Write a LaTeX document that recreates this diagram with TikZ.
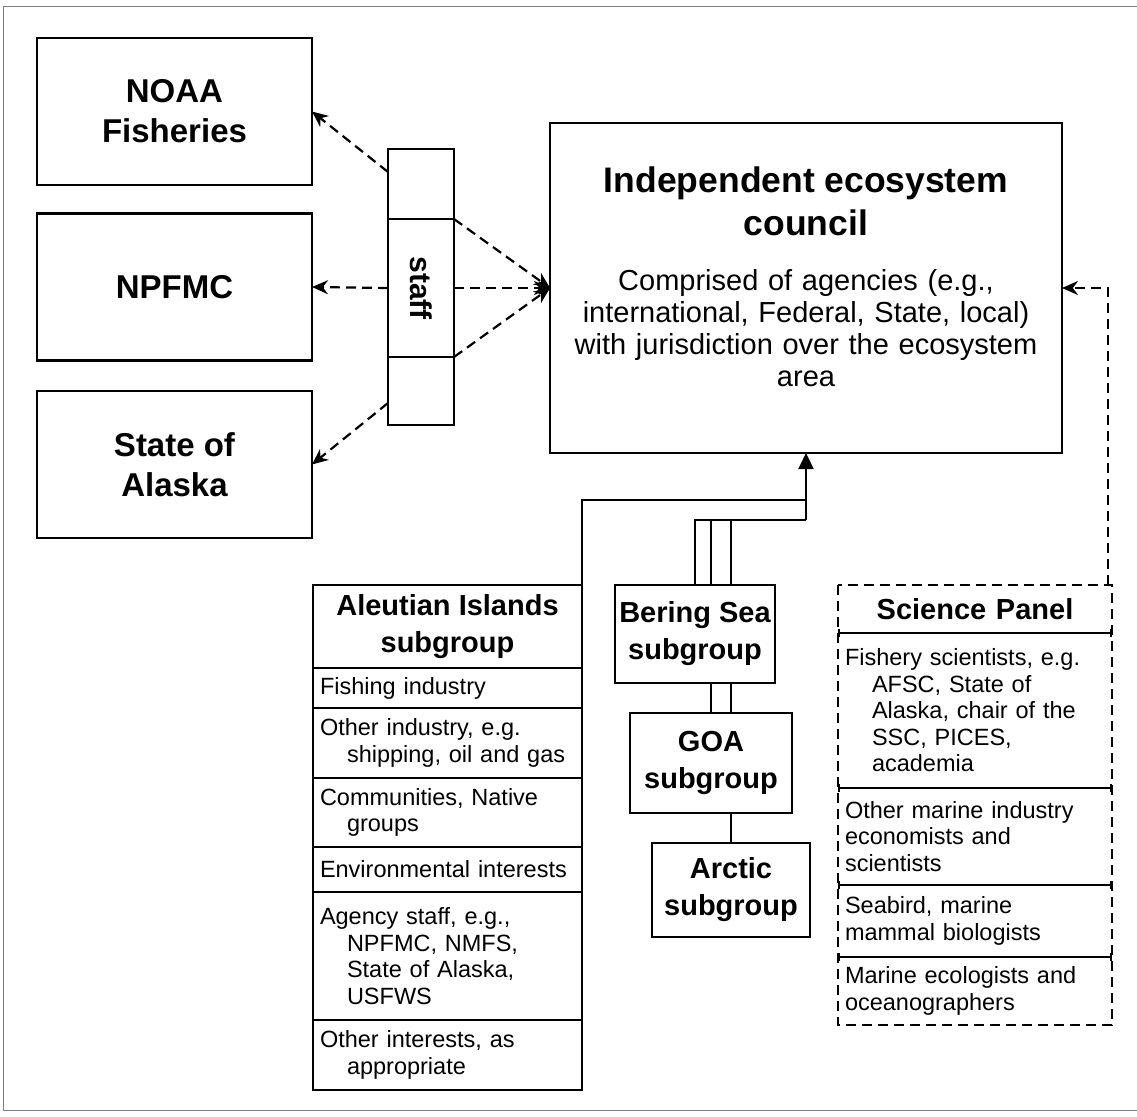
\documentclass[tikz,border=0pt]{standalone}
\usepackage{fontspec}
\setmainfont{Liberation Sans}
\usetikzlibrary{arrows.meta,positioning,backgrounds}

\newcommand{\fs}[2]{\fontsize{#1}{#2}\selectfont}
\newcommand{\ind}{\hspace*{27pt}}

\tikzset{
  box/.style={draw,line width=2.4pt,fill=white,align=center,inner sep=0pt,outer sep=0pt},
  agency/.style={box,minimum width=275pt,minimum height=147pt,font=\bfseries\fs{33}{40}},
  subgrp/.style={box,font=\bfseries\fs{29}{37}},
  cell/.style={draw,line width=1.8pt,fill=white,text width=255pt,inner xsep=7pt,inner ysep=0pt,outer sep=0pt,align=left,font=\fs{23.5}{26.5}},
  sci/.style={text width=260pt,inner xsep=7pt,inner ysep=0pt,outer sep=0pt,align=left,font=\fs{23.5}{26.5}},
  dashline/.style={line width=2.2pt,dash pattern=on 10pt off 6pt},
  link/.style={line width=2.2pt},
  divider/.style={line width=2pt,{Bar[width=8pt]}-{Bar[width=8pt]}},
}

\begin{document}
\begin{tikzpicture}[>={Stealth[length=16pt,width=14pt]},x=1pt,y=-1pt]
  \useasboundingbox (0,0) rectangle (1137,1116);
  \draw[gray,line width=0.8pt] (1137,6) -- (3,6) -- (3,1110) -- (1137,1110);

  % agencies on the left
  \node[agency] (noaa) at (174.5,111.5) {NOAA\\Fisheries};
  \node[agency] (npfmc) at (174.5,287) {NPFMC};
  \node[agency] (soa) at (174.5,464.5) {State of\\Alaska};

  % staff column
  \node[box,minimum width=66pt,minimum height=70pt] (stafftop) at (421,184) {};
  \node[box,minimum width=66pt,minimum height=138pt,below=0pt of stafftop] (staffmid) {};
  \node[box,minimum width=66pt,minimum height=68pt,below=0pt of staffmid] (staffbot) {};
  \node[rotate=-90,font=\bfseries\fs{30}{36}] (stafflabel) at (staffmid.center) {staff};

  % council
  \node[box,minimum width=512pt,minimum height=330pt] (council) at (806,288) {};
  \node[align=center,text width=490pt,font=\fs{29}{32}] (counciltext) at (806,277)
    {{\bfseries\fs{35.5}{43}Independent ecosystem\\council\par}\vspace{23pt}%
     {\fs{29}{32}Comprised of agencies (e.g.,\\international, Federal, State, local)\\with jurisdiction over the ecosystem\\area\par}};

  % Aleutian Islands subgroup
  \node[subgrp,minimum width=269pt,minimum height=83pt] (aleut) at (447.5,626.5) {Aleutian Islands\\subgroup};
  \node[cell,minimum height=40pt,below=0pt of aleut] (fish) {Fishing industry};
  \node[cell,minimum height=70pt,below=0pt of fish] (othind) {Other industry, e.g.\\\ind shipping, oil and gas};
  \node[cell,minimum height=69pt,below=0pt of othind] (comm) {Communities, Native\\\ind groups};
  \node[cell,minimum height=45pt,below=0pt of comm] (env) {Environmental interests};
  \node[cell,minimum height=128pt,below=0pt of env] (agstaff) {Agency staff, e.g.,\\\ind NPFMC, NMFS,\\\ind State of Alaska,\\\ind USFWS};
  \node[cell,minimum height=70pt,below=0pt of agstaff] (othint) {Other interests, as\\\ind appropriate};

  % other subgroups
  \node[subgrp,minimum width=160pt,minimum height=98pt] (bering) at (695,634) {Bering Sea\\subgroup};
  \node[subgrp,minimum width=162pt,minimum height=100pt] (goa) at (711,763) {GOA\\subgroup};
  \node[subgrp,minimum width=158pt,minimum height=94pt] (arctic) at (731,890) {Arctic\\subgroup};

  % science panel
  \node[sci,minimum height=48pt,align=center,font=\bfseries\fs{29}{37}] (scihead) at (975,609) {Science Panel};
  \node[sci,minimum height=155pt,below=0pt of scihead] (sci1) {Fishery scientists, e.g.\\\ind AFSC, State of\\\ind Alaska, chair of the\\\ind SSC, PICES,\\\ind academia};
  \node[sci,minimum height=97pt,below=0pt of sci1] (sci2) {Other marine industry\\economists and\\scientists};
  \node[sci,minimum height=72pt,below=0pt of sci2] (sci3) {Seabird, marine\\mammal biologists};
  \node[sci,minimum height=68pt,below=0pt of sci3] (sci4) {Marine ecologists and\\oceanographers};
  \draw[dashline] (scihead.north west) rectangle (sci4.south east);
  \foreach \r in {sci1,sci2,sci3,sci4}
    \draw[divider] (\r.north west) -- (\r.north east);

  % connectors
  \coordinate (hub) at (806,520);
  \coordinate (hubal) at (806,500);
  \begin{scope}[on background layer]
    \draw[link] (bering.north) |- (hub);
    \draw[link] (goa.north) |- (hub);
    \draw[link] (arctic.north) |- (hub);
    \draw[link] (aleut.north east) |- (hubal);
  \end{scope}
  \draw[link,-{Triangle[length=16pt,width=15pt]}] (hub) -- (council.south);

  \draw[dashline,->] (stafftop.160) -- (noaa.east);
  \draw[dashline,->] (staffmid.west) -- (npfmc.east);
  \draw[dashline,->] (staffbot.200) -- (soa.east);
  \draw[dashline,->] (stafftop.south east) -- (council.west);
  \draw[dashline,->] (staffmid.east) -- (council.west);
  \draw[dashline,->] (staffbot.north east) -- (council.west);
  \draw[dashline,->] ([xshift=-4pt]scihead.north east) |- (council.east);
\end{tikzpicture}
\end{document}
